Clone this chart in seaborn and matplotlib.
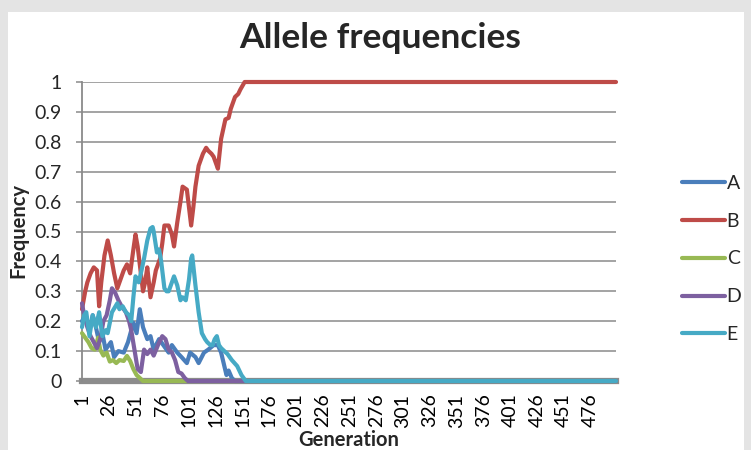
import matplotlib
matplotlib.use("Agg")
import matplotlib.pyplot as plt
import seaborn as sns
import pandas as pd
from matplotlib.patches import Rectangle

# ---- data ----
gen_A = [1, 4, 8, 11, 14, 17, 20, 23, 28, 31, 35, 40, 44, 49, 52, 55, 58, 62, 65, 68,
         73, 77, 82, 85, 90, 94, 99, 102, 107, 110, 115, 119, 124, 128, 131, 134, 136,
         138, 141, 144, 500]
freq_A = [0.20, 0.22, 0.17, 0.22, 0.18, 0.13, 0.16, 0.105, 0.13, 0.08, 0.10, 0.095,
          0.13, 0.195, 0.16, 0.24, 0.18, 0.14, 0.15, 0.105, 0.14, 0.12, 0.095, 0.12,
          0.095, 0.08, 0.06, 0.095, 0.08, 0.06, 0.095, 0.105, 0.12, 0.12, 0.095, 0.05,
          0.02, 0.035, 0.01, 0.0, 0.0]

gen_B = [1, 4, 6, 9, 12, 15, 17, 19, 22, 25, 28, 31, 34, 37, 40, 43, 46, 49, 51, 53,
         56, 58, 60, 62, 65, 68, 70, 74, 76, 78, 82, 85, 87, 90, 93, 95, 99, 101, 103,
         105, 107, 110, 114, 117, 119, 122, 124, 126, 128, 131, 135, 138, 140, 144, 147,
         149, 153, 500]
freq_B = [0.24, 0.30, 0.33, 0.36, 0.38, 0.37, 0.25, 0.33, 0.42, 0.47, 0.42, 0.36, 0.31,
          0.34, 0.37, 0.39, 0.36, 0.44, 0.49, 0.45, 0.36, 0.30, 0.33, 0.38, 0.28, 0.33,
          0.37, 0.41, 0.46, 0.52, 0.52, 0.49, 0.45, 0.53, 0.60, 0.65, 0.64, 0.58, 0.52,
          0.58, 0.65, 0.72, 0.76, 0.78, 0.77, 0.76, 0.75, 0.73, 0.71, 0.81, 0.875, 0.88,
          0.91, 0.95, 0.96, 0.975, 1.0, 1.0]

gen_C = [1, 4, 7, 10, 13, 16, 18, 21, 24, 27, 30, 33, 36, 40, 43, 46, 49, 52, 55, 58, 500]
freq_C = [0.16, 0.145, 0.13, 0.11, 0.105, 0.145, 0.105, 0.085, 0.095, 0.065, 0.07,
          0.06, 0.07, 0.067, 0.084, 0.067, 0.04, 0.02, 0.01, 0.0, 0.0]

gen_D = [1, 3, 6, 9, 12, 15, 18, 21, 24, 27, 29, 32, 35, 38, 42, 45, 47, 50, 53, 56,
         59, 62, 65, 68, 72, 76, 79, 82, 85, 88, 91, 94, 97, 100, 500]
freq_D = [0.26, 0.22, 0.18, 0.15, 0.13, 0.11, 0.14, 0.20, 0.22, 0.27, 0.31, 0.295,
          0.27, 0.25, 0.23, 0.20, 0.17, 0.105, 0.04, 0.03, 0.105, 0.09, 0.105, 0.085,
          0.12, 0.15, 0.14, 0.105, 0.095, 0.07, 0.03, 0.025, 0.01, 0.0, 0.0]

gen_E = [1, 3, 5, 8, 11, 14, 17, 20, 23, 25, 29, 34, 36, 39, 42, 45, 47, 49, 51, 54,
         56, 59, 62, 65, 67, 68, 71, 73, 75, 78, 80, 82, 85, 87, 90, 93, 95, 98, 101,
         103, 104, 107, 110, 113, 116, 118, 121, 123, 125, 127, 129, 131, 134, 137, 141,
         146, 150, 154, 500]
freq_E = [0.18, 0.22, 0.23, 0.15, 0.22, 0.18, 0.23, 0.15, 0.17, 0.16, 0.23, 0.26, 0.24,
          0.25, 0.23, 0.22, 0.20, 0.28, 0.35, 0.33, 0.36, 0.41, 0.47, 0.51, 0.515, 0.50,
          0.43, 0.44, 0.40, 0.31, 0.30, 0.30, 0.33, 0.35, 0.32, 0.27, 0.28, 0.27, 0.34,
          0.41, 0.42, 0.32, 0.23, 0.16, 0.14, 0.13, 0.12, 0.12, 0.14, 0.15, 0.12, 0.11,
          0.10, 0.09, 0.07, 0.05, 0.02, 0.0, 0.0]

series_names = ["A", "B", "C", "D", "E"]
x_tick_values = list(range(1, 500, 25))
y_tick_values = [0, 0.1, 0.2, 0.3, 0.4, 0.5, 0.6, 0.7, 0.8, 0.9, 1]
y_tick_labels = ["0", "0.1", "0.2", "0.3", "0.4", "0.5", "0.6", "0.7", "0.8", "0.9", "1"]

# ---- build table ----
gens = [gen_A, gen_B, gen_C, gen_D, gen_E]
freqs = [freq_A, freq_B, freq_C, freq_D, freq_E]
rows = []
for name, g, f in zip(series_names, gens, freqs):
    for gi, fi in zip(g, f):
        rows.append({"Generation": gi, "Frequency": fi, "Allele": name})
df = pd.DataFrame(rows)

palette = {"A": "#4A7EBB", "B": "#BE4B48", "C": "#98B954", "D": "#7D60A0", "E": "#46AAC5"}

sns.set_style("white")
plt.rcParams['font.family'] = ['Lato', 'DejaVu Sans']

W, H = 751, 450
fig = plt.figure(figsize=(W / 100, H / 100), dpi=100)
fig.patch.set_facecolor("#e4e4e4")
fig.add_artist(Rectangle((8 / W, 0), (744 - 8) / W, (H - 12) / H,
                         transform=fig.transFigure, facecolor="white",
                         edgecolor="none", zorder=-5))

ax = fig.add_axes([82 / W, 1 - 381 / H, (616 - 82) / W, 299 / H])
ax.set_facecolor("white")

LW = 3.0
sns.lineplot(data=df, x="Generation", y="Frequency", hue="Allele",
             hue_order=series_names, palette=palette, estimator=None, sort=True,
             linewidth=LW, ax=ax, clip_on=False, zorder=3)

ax.set_xlim(1, 500)
ax.set_ylim(0, 1)

# grid & spines
ax.set_yticks(y_tick_values)
ax.set_yticklabels(y_tick_labels)
ax.yaxis.grid(True, color="#8a8a8a", linewidth=1.1)
ax.xaxis.grid(False)
ax.set_axisbelow(True)
for s in ["top", "right"]:
    ax.spines[s].set_visible(False)
ax.spines["left"].set_color("#8a8a8a")
ax.spines["left"].set_linewidth(1.3)
ax.spines["bottom"].set_color("#8c8c8c")
ax.spines["bottom"].set_linewidth(4.5)
ax.spines["bottom"].set_zorder(2)

ax.set_xticks(x_tick_values)
ax.set_xticklabels([str(v) for v in x_tick_values], rotation=90)
ax.tick_params(axis="x", length=0, pad=9, labelsize=14, colors="black")
ax.tick_params(axis="y", length=4.5, width=1.1, color="#8a8a8a", direction="out",
               pad=10, labelsize=14, left=True)

ax.set_xlabel("")
ax.set_ylabel("")

# legend
handles, labels = ax.get_legend_handles_labels()
ax.get_legend().remove()
leg = fig.legend(handles, labels, loc="center left",
                 bbox_to_anchor=(682 / W, 1 - 259 / H), frameon=False,
                 fontsize=14, handlelength=2.2, handletextpad=0.1,
                 labelspacing=1.07, borderpad=0, borderaxespad=0)
for line in leg.get_lines():
    line.set_linewidth(LW)

# texts
fig.text(380 / W, 1 - 38 / H, "Allele frequencies", ha="center", va="center",
         fontsize=25.5, fontweight="bold")
fig.text(349 / W, 1 - 440 / H, "Generation", ha="center", va="center",
         fontsize=14.5, fontweight="bold")
fig.text(18 / W, 1 - 230 / H, "Frequency", ha="center", va="center",
         rotation=90, fontsize=14.5, fontweight="bold")

fig.savefig("out.png", dpi=100, facecolor=fig.get_facecolor())
